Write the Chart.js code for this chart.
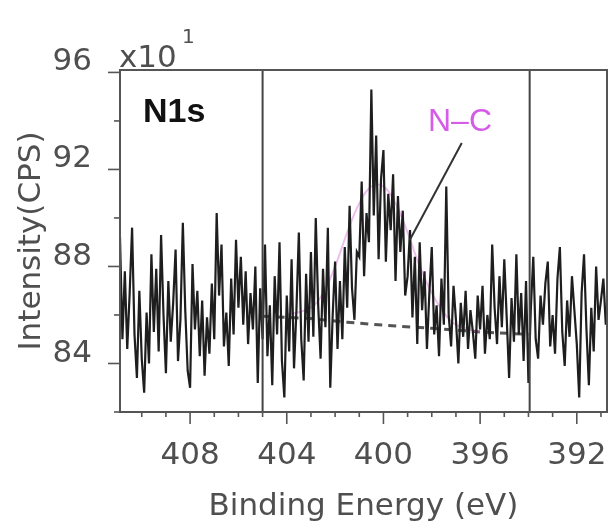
<!DOCTYPE html>
<html>
<head>
<meta charset="utf-8">
<script src="https://cdn.jsdelivr.net/npm/chart.js@4"></script>
<style>
  html, body { margin: 0; padding: 0; background: #fff; }
  #wrap { width: 614px; height: 530px; }
</style>
</head>
<body>
<div id="wrap"><canvas id="chart" width="614" height="530"></canvas></div>
<script>
// N1s spectrum, 411.0 eV down to 390.7 eV in 0.1 eV steps (intensity in x10 CPS)
const startEnergy = 411.0;
const energyStep = 0.1;
const intensity = [
  86.5, 89.2, 85.0, 87.8, 84.6, 86.9, 89.6, 85.2, 83.4, 87.0,
  84.2, 82.8, 86.1, 84.0, 88.5, 85.3, 87.9, 84.5, 89.3, 86.0,
  83.6, 87.4, 84.9, 86.5, 88.7, 84.1, 85.8, 89.8, 86.2, 83.7,
  83.0, 88.1, 85.4, 87.0, 84.3, 86.6, 83.5, 85.9, 84.4, 87.3,
  85.0, 90.2, 86.8, 88.9, 84.7, 86.1, 83.9, 87.5, 85.2, 89.1,
  86.3, 88.4, 85.6, 87.8, 84.8, 86.9, 85.4, 88.0, 83.2, 87.1,
  85.0, 88.9, 84.3, 86.4, 83.1, 87.6, 85.2, 89.0, 84.1, 82.6,
  86.8, 84.5, 88.3, 83.8, 86.2, 89.4, 85.0, 83.3, 87.7, 84.9,
  88.6, 85.1, 90.0, 86.4, 84.2, 87.9, 85.5, 89.6, 83.0, 86.0,
  88.2, 84.6, 87.4, 85.0, 88.8, 86.3, 90.5, 87.1, 85.8, 88.6,
  88.4, 91.5, 87.6, 90.2, 89.0, 95.3, 90.1, 93.4, 88.3, 91.6,
  92.8, 88.2, 91.0, 89.5, 91.8, 87.4, 90.9, 88.6, 90.3, 86.8,
  87.6, 89.5, 85.9, 88.4, 84.8, 89.0, 86.2, 87.8, 84.6, 86.9,
  88.8, 85.2, 86.4, 84.3, 87.5, 85.6, 91.3, 86.0, 84.7, 87.2,
  85.8, 84.0, 86.5, 85.1, 87.0, 84.6, 86.2, 85.3, 84.2, 86.8,
  85.4, 87.2, 84.4, 86.0, 85.0, 88.9, 86.3, 84.8, 87.6, 85.5,
  88.3, 85.9, 83.4, 86.7, 84.9, 88.5, 85.2, 86.9, 84.1, 87.4,
  83.2, 86.3, 88.4, 85.0, 84.2, 86.8, 85.6, 87.3, 88.2, 84.7,
  86.0, 84.4, 87.5, 88.8, 85.3, 83.9, 86.6, 85.1, 87.6, 86.2,
  84.8, 82.6, 86.9, 88.5, 85.4, 83.1, 86.3, 84.5, 88.0, 85.8,
  86.6, 87.5, 85.6, 86.8
];

// N-C fitted component
const fitEnergy = [404.0, 403.0, 402.5, 402.0, 401.5, 401.0, 400.5, 400.0, 399.5, 399.0, 398.5, 398.0, 397.5, 397.0, 396.0];
const fitValue  = [86.0, 86.3, 86.9, 88.0, 89.4, 90.6, 91.3, 91.3, 90.6, 89.4, 88.0, 86.9, 86.1, 85.6, 85.3];

// background (dashed)
const bgEnergy = [405.0, 403.0, 401.5, 400.0, 398.0, 397.0, 396.0, 394.0];
const bgValue  = [85.95, 85.85, 85.7, 85.58, 85.45, 85.38, 85.3, 85.2];

// fit window limits
const windowEnergy = [405.0, 393.95];

// label pointer for "N–C"
const pointerEnergy = [396.76, 398.91];
const pointerValue  = [93.09, 89.09];

const xTicks = [391, 392, 393, 394, 395, 396, 397, 398, 399, 400, 401, 402, 403, 404, 405, 406, 407, 408, 409, 410];
const xTickLabels = [392, 396, 400, 404, 408];
const yTicks = [82, 84, 86, 88, 90, 92, 94, 96];
const yTickLabels = [84, 88, 92, 96];

const X_MIN = 390.75, X_MAX = 410.9;
const Y_MIN = 82, Y_MAX = 96.1;

const spectrum = intensity.map((v, i) => ({
  x: Math.round((startEnergy - i * energyStep) * 10) / 10,
  y: v
}));
const pts = (xs, ys) => xs.map((x, i) => ({ x, y: ys[i] }));

const textColor = '#4f4f4f';
const axisFont = { family: 'DejaVu Sans', size: 31 };

const decor = {
  id: 'decor',
  afterDraw(chart) {
    const { ctx, chartArea: a, scales: { x, y } } = chart;
    ctx.save();
    // frame
    ctx.strokeStyle = '#555';
    ctx.lineWidth = 2;
    ctx.strokeRect(a.left, a.top, a.right - a.left, a.bottom - a.top);
    // ticks
    ctx.lineWidth = 1.6;
    xTicks.forEach((e) => {
      const px = x.getPixelForValue(e);
      const len = xTickLabels.includes(e) ? 12 : 5;
      ctx.beginPath();
      ctx.moveTo(px, a.bottom);
      ctx.lineTo(px, a.bottom + len);
      ctx.stroke();
    });
    yTicks.forEach((v) => {
      const py = y.getPixelForValue(v);
      const len = yTickLabels.includes(v) ? 12 : 6;
      ctx.beginPath();
      ctx.moveTo(a.left, py);
      ctx.lineTo(a.left - len, py);
      ctx.stroke();
    });
    // y title
    ctx.fillStyle = textColor;
    ctx.font = '31px "DejaVu Sans"';
    ctx.textAlign = 'center';
    ctx.textBaseline = 'middle';
    ctx.translate(32, (a.top + a.bottom) / 2);
    ctx.rotate(-Math.PI / 2);
    ctx.fillText('Intensity(CPS)', 0, 0);
    ctx.restore();

    ctx.save();
    ctx.fillStyle = textColor;
    ctx.textAlign = 'left';
    ctx.textBaseline = 'alphabetic';
    ctx.font = '31px "DejaVu Sans"';
    ctx.fillText('x10', 119, 67);
    ctx.font = '20px "DejaVu Sans"';
    ctx.fillText('1', 182, 43);
    // panel label
    ctx.fillStyle = '#111';
    ctx.font = 'bold 34px "Liberation Sans"';
    ctx.fillText('N1s', 143, 122);
    // component label
    ctx.fillStyle = '#d45ce6';
    ctx.font = '32px "Liberation Sans"';
    ctx.fillText('N\u2013C', 428, 131);
    ctx.restore();
  }
};

new Chart(document.getElementById('chart'), {
  type: 'line',
  data: {
    datasets: [
      {
        label: 'pointer',
        data: pts(pointerEnergy, pointerValue),
        borderColor: '#333', borderWidth: 2, pointRadius: 0
      },
      {
        label: 'window low',
        data: pts([windowEnergy[0], windowEnergy[0]], [Y_MIN, Y_MAX]),
        borderColor: '#444', borderWidth: 2, pointRadius: 0
      },
      {
        label: 'window high',
        data: pts([windowEnergy[1], windowEnergy[1]], [Y_MIN, Y_MAX]),
        borderColor: '#444', borderWidth: 2, pointRadius: 0
      },
      {
        label: 'spectrum',
        data: spectrum,
        borderColor: '#1e1e1e', borderWidth: 2.2, pointRadius: 0
      },
      {
        label: 'N-C',
        data: pts(fitEnergy, fitValue),
        borderColor: 'rgba(215, 110, 215, 0.45)', borderWidth: 2, pointRadius: 0,
        tension: 0.4
      },
      {
        label: 'background',
        data: pts(bgEnergy, bgValue),
        borderColor: '#555', borderWidth: 3, borderDash: [8, 6], pointRadius: 0
      }
    ]
  },
  options: {
    responsive: false,
    animation: false,
    devicePixelRatio: 1,
    layout: { padding: { top: 70, right: 7, left: 0, bottom: 0 } },
    plugins: { legend: { display: false }, tooltip: { enabled: false } },
    scales: {
      x: {
        type: 'linear',
        reverse: true,
        min: X_MIN,
        max: X_MAX,
        afterBuildTicks: (s) => { s.ticks = xTickLabels.map((v) => ({ value: v })); },
        afterFit: (s) => { s.height = 118; s.paddingLeft = 0; s.paddingRight = 0; },
        grid: { display: false },
        border: { display: false },
        ticks: {
          autoSkip: false,
          maxRotation: 0,
          padding: 17,
          color: textColor,
          font: axisFont,
          callback: (v) => String(v)
        },
        title: {
          display: true,
          text: 'Binding Energy (eV)',
          color: textColor,
          font: axisFont,
          padding: { top: 0, bottom: 4 }
        }
      },
      y: {
        min: Y_MIN,
        max: Y_MAX,
        afterBuildTicks: (s) => { s.ticks = yTickLabels.map((v) => ({ value: v })); },
        afterFit: (s) => { s.width = 120; },
        grid: { display: false },
        border: { display: false },
        ticks: {
          autoSkip: false,
          padding: 20,
          labelOffset: -10,
          color: textColor,
          font: axisFont,
          callback: (v) => String(v)
        }
      }
    }
  },
  plugins: [decor]
});
</script>
</body>
</html>
